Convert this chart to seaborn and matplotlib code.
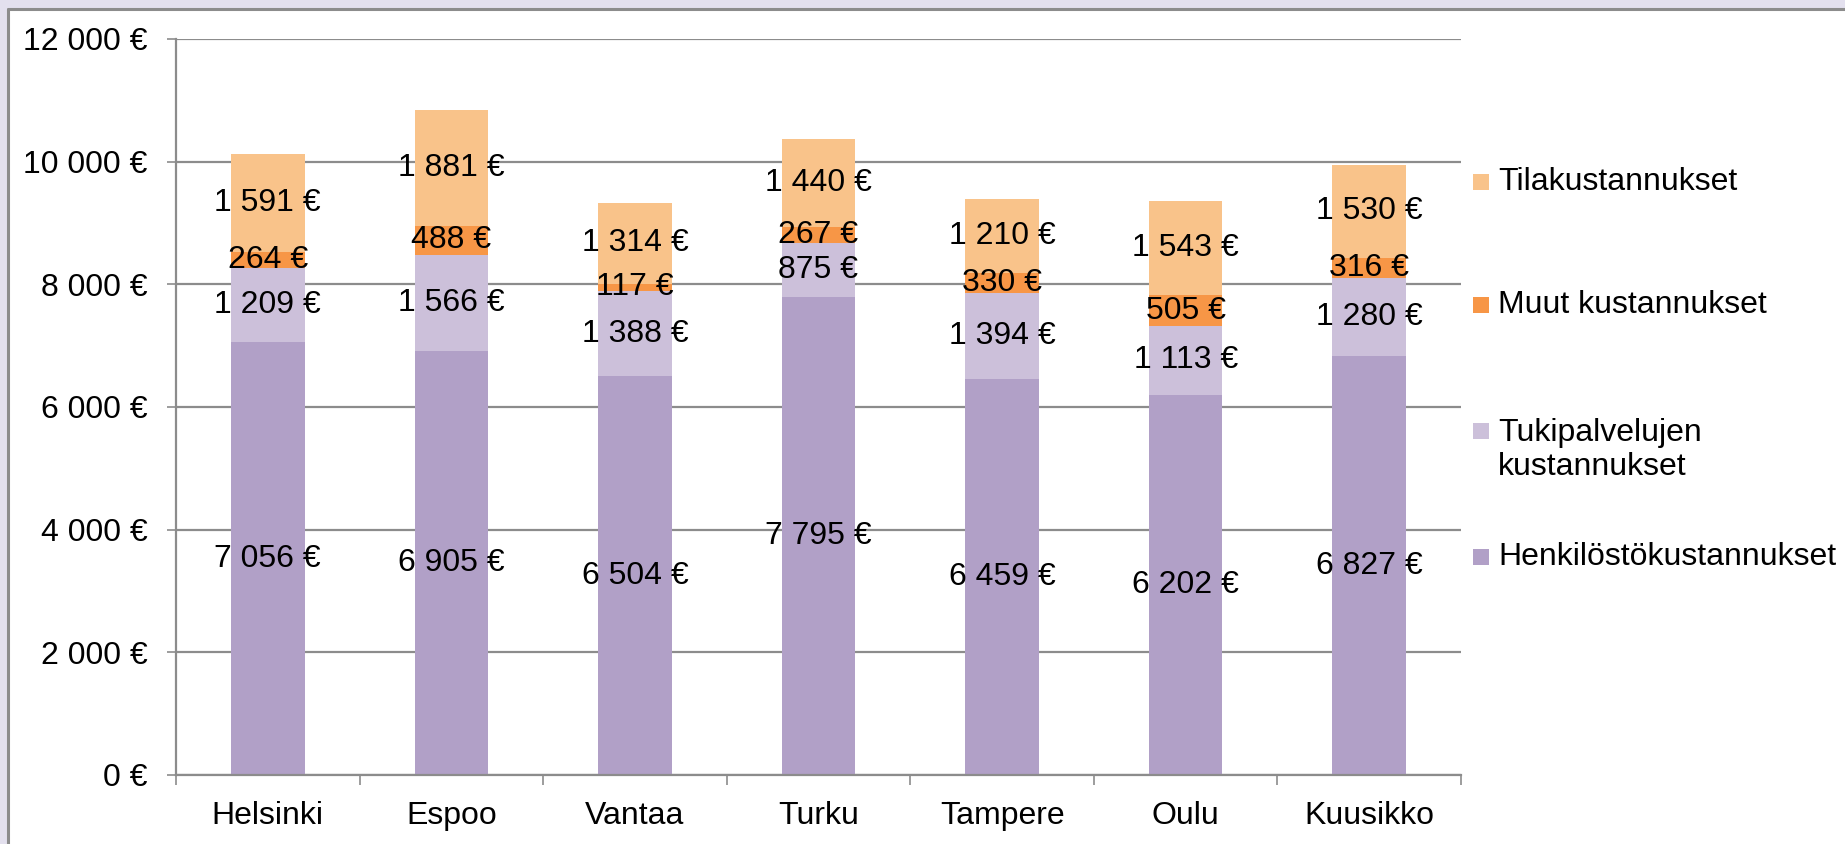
import numpy as np
import pandas as pd
import matplotlib
matplotlib.use("Agg")
import matplotlib.pyplot as plt
import seaborn as sns
from matplotlib.patches import Rectangle
from matplotlib.lines import Line2D

cities = ["Helsinki", "Espoo", "Vantaa", "Turku", "Tampere", "Oulu", "Kuusikko"]
henkilosto = [7056, 6905, 6504, 7795, 6459, 6202, 6827]
tukipalvelut = [1209, 1566, 1388, 875, 1394, 1113, 1280]
muut = [264, 488, 117, 267, 330, 505, 316]
tila = [1591, 1881, 1314, 1440, 1210, 1543, 1530]

series_names = ["Henkilöstökustannukset", "Tukipalvelujen\nkustannukset",
                "Muut kustannukset", "Tilakustannukset"]
series_vals = [henkilosto, tukipalvelut, muut, tila]
colors = ["#B1A0C7", "#CCC0DA", "#F79646", "#F9C38A"]
yticks = [0, 2000, 4000, 6000, 8000, 10000, 12000]

sns.set_theme(style="white")
plt.rcParams["font.family"] = ["Liberation Sans", "DejaVu Sans"]
FS = 23

W, H = 1845, 844
fig = plt.figure(figsize=(W / 100, H / 100), dpi=100)
fig.patch.set_facecolor("white")

# outer frame: lavender strips + gray border line
fig.add_artist(Rectangle((0, 1 - 8 / H), 1, 8 / H, transform=fig.transFigure,
                         facecolor="#E3E0EE", edgecolor="none", zorder=-5))
fig.add_artist(Rectangle((0, 0), 7 / W, 1, transform=fig.transFigure,
                         facecolor="#E3E0EE", edgecolor="none", zorder=-5))
fig.add_artist(Line2D([7.5 / W, 1], [1 - 8.5 / H, 1 - 8.5 / H], transform=fig.transFigure,
                      color="#8C8C8C", lw=2.2))
fig.add_artist(Line2D([7.5 / W, 7.5 / W], [0, 1 - 8.5 / H], transform=fig.transFigure,
                      color="#8C8C8C", lw=2.2))

left, right = 176 / W, 1461 / W
bottom, top = 1 - 775 / H, 1 - 39 / H
ax = fig.add_axes([left, bottom, right - left, top - bottom])
ax.set_facecolor("white")

# cumulative stacks drawn from top layer down
cum = np.cumsum(np.array(series_vals), axis=0)
df = pd.DataFrame({"city": cities})
for i in range(len(series_vals) - 1, -1, -1):
    df["v"] = cum[i]
    sns.barplot(data=df, x="city", y="v", color=colors[i], width=0.4,
                saturation=1, ax=ax, zorder=2, linewidth=0, errorbar=None)

# labels centered in segments
for i, vals in enumerate(series_vals):
    base = cum[i] - np.array(vals)
    for j, v in enumerate(vals):
        txt = f"{v:,}".replace(",", " ") + " €"
        ax.text(j, base[j] + v / 2, txt, ha="center", va="center",
                fontsize=FS, color="black", zorder=5)

ax.set_ylim(0, 12000)
ax.set_xlim(-0.5, len(cities) - 0.5)
ax.set_yticks(yticks)
ax.set_yticklabels([f"{t:,}".replace(",", " ") + " €" for t in yticks], fontsize=FS)
ax.set_xticks(range(len(cities)))
ax.set_xticklabels(cities, fontsize=FS)
ax.set_xticks(np.arange(-0.5, len(cities), 1), minor=True)
ax.set_xlabel("")
ax.set_ylabel("")

ax.yaxis.grid(True, color="#8C8C8C", lw=1.6, zorder=0)
ax.set_axisbelow(True)
for s in ["top", "right"]:
    ax.spines[s].set_visible(False)
for s in ["left", "bottom"]:
    ax.spines[s].set_color("#8C8C8C")
    ax.spines[s].set_linewidth(1.6)
ax.tick_params(axis="y", which="major", length=6.5, width=1.2, color="#8C8C8C",
               pad=14, labelcolor="black", left=True)
ax.tick_params(axis="x", which="major", length=0, pad=19, labelcolor="black")
ax.tick_params(axis="x", which="minor", length=7, width=1.2, color="#8C8C8C",
               bottom=True)

# legend (manual, Excel-like)
leg_items = [("Tilakustannukset", colors[3], 182, 182),
             ("Muut kustannukset", colors[2], 305, 305),
             ("Tukipalvelujen\nkustannukset", colors[1], 431, 450),
             ("Henkilöstökustannukset", colors[0], 557, 557)]
for lab, col, ysq, ytx in leg_items:
    fig.add_artist(Rectangle((1473 / W, 1 - (ysq + 8) / H), 16 / W, 16 / H,
                             transform=fig.transFigure, facecolor=col, edgecolor="none"))
    fig.text(1498 / W, 1 - ytx / H, lab, ha="left", va="center", fontsize=FS,
             linespacing=1.15, color="black")

fig.savefig("out.png", dpi=100)
